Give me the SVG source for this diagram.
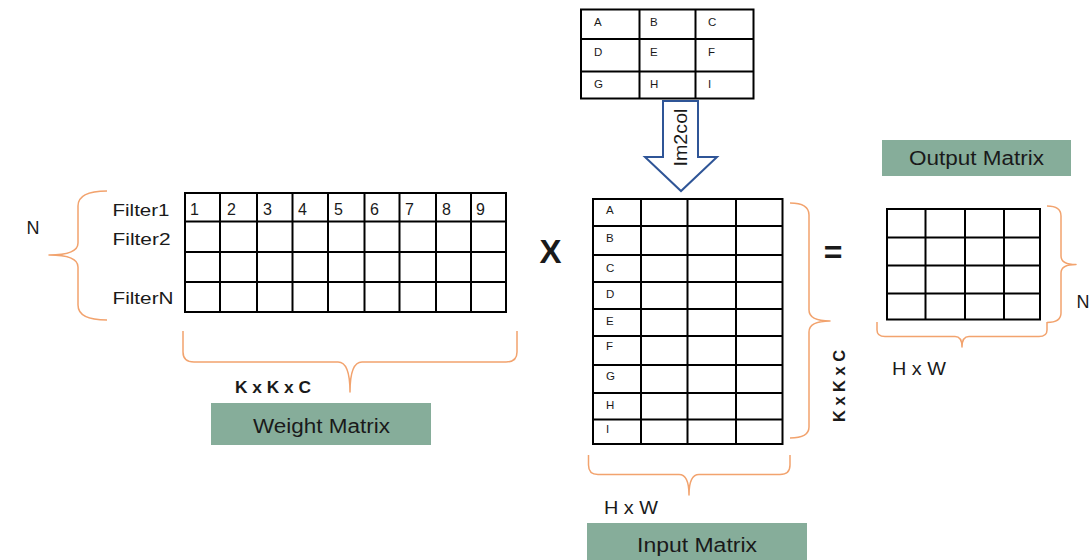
<svg xmlns="http://www.w3.org/2000/svg" width="1091" height="560" viewBox="0 0 1091 560">
  <style>
    .grid { fill: #ffffff; stroke: #000000; stroke-width: 2; }
    .line { stroke: #000000; stroke-width: 2; }
    .brace { fill: none; stroke: #f2a36e; stroke-width: 1.5; stroke-linejoin: round; }
    .label { fill: #1a1a1a; font-family: "Liberation Sans", "Noto Sans", sans-serif; }
    .cell { font-size: 11.5px; }
    .digit { font-size: 16px; }
    .filter { font-size: 17px; }
    .bold { font-weight: bold; }
    .banner { fill: #86ad9a; }
    .bannerText { font-size: 20px; fill: #1a1a1a; font-family: "Liberation Sans", "Noto Sans", sans-serif; }
    .arrow { fill: #ffffff; stroke: #2f5597; stroke-width: 2; stroke-linejoin: miter; }
  </style>

  <!-- Weight matrix: N filters, each flattened to K x K x C values -->
  <g id="weight-matrix">
    <rect class="grid" x="185" y="193" width="321" height="119"/>
    <g class="line">
      <line x1="220" y1="193" x2="220" y2="312"/>
      <line x1="257" y1="193" x2="257" y2="312"/>
      <line x1="292.5" y1="193" x2="292.5" y2="312"/>
      <line x1="328" y1="193" x2="328" y2="312"/>
      <line x1="364.5" y1="193" x2="364.5" y2="312"/>
      <line x1="399.5" y1="193" x2="399.5" y2="312"/>
      <line x1="436" y1="193" x2="436" y2="312"/>
      <line x1="471" y1="193" x2="471" y2="312"/>
      <line x1="185" y1="221.5" x2="506" y2="221.5"/>
      <line x1="185" y1="252" x2="506" y2="252"/>
      <line x1="185" y1="282" x2="506" y2="282"/>
    </g>
    <g class="label digit">
      <text x="190" y="215">1</text>
      <text x="227" y="215">2</text>
      <text x="263" y="215">3</text>
      <text x="298" y="215">4</text>
      <text x="334" y="215">5</text>
      <text x="370" y="215">6</text>
      <text x="405" y="215">7</text>
      <text x="442" y="215">8</text>
      <text x="476" y="215">9</text>
    </g>
    <g class="label filter">
      <text x="112.5" y="216" textLength="57" lengthAdjust="spacingAndGlyphs">Filter1</text>
      <text x="112.5" y="245" textLength="58" lengthAdjust="spacingAndGlyphs">Filter2</text>
      <text x="112.5" y="304" textLength="61" lengthAdjust="spacingAndGlyphs">FilterN</text>
    </g>
    <text class="label" x="26.5" y="233.5" font-size="18">N</text>
    <path class="brace" d="M107,191 Q78,191 78,206 L78,243 Q78,255 49,255 Q78,255 78,267 L78,305 Q78,320 107,320"/>
    <path class="brace" d="M183,331 L183,352 Q183,362 194,362 L338,362 Q350,362 350,392 Q350,362 362,362 L506,362 Q517,362 517,352 L517,331"/>
    <text class="label bold" x="235" y="393" font-size="16" textLength="76" lengthAdjust="spacingAndGlyphs">K x K x C</text>
    <rect class="banner" x="211" y="403" width="220" height="42"/>
    <text class="bannerText" x="253" y="433" textLength="137" lengthAdjust="spacingAndGlyphs">Weight Matrix</text>
  </g>

  <!-- Multiplication sign -->
  <g id="times-sign">
    <text class="label bold" x="550.5" y="262.5" font-size="33" text-anchor="middle">X</text>
  </g>

  <!-- Image patch before unfolding -->
  <g id="image-patch">
    <rect class="grid" x="581" y="9.5" width="172.5" height="89"/>
    <g class="line">
      <line x1="639.5" y1="9.5" x2="639.5" y2="98.5"/>
      <line x1="695.5" y1="9.5" x2="695.5" y2="98.5"/>
      <line x1="581" y1="39" x2="753.5" y2="39"/>
      <line x1="581" y1="71.5" x2="753.5" y2="71.5"/>
    </g>
    <g class="label cell">
      <text x="594" y="25.5">A</text>
      <text x="650" y="25.5">B</text>
      <text x="708" y="25.5">C</text>
      <text x="594" y="56">D</text>
      <text x="650" y="56">E</text>
      <text x="708" y="56">F</text>
      <text x="594" y="88">G</text>
      <text x="650" y="88">H</text>
      <text x="708" y="88">I</text>
    </g>
  </g>

  <!-- Im2col transform arrow -->
  <g id="im2col-arrow">
    <polygon class="arrow" points="663,101 698,101 698,157 717,157 681,191 645,157 663,157"/>
    <text class="label" transform="translate(687,137.5) rotate(-90)" font-size="19" text-anchor="middle" textLength="58" lengthAdjust="spacingAndGlyphs">Im2col</text>
  </g>

  <!-- Input matrix: K x K x C rows by H x W columns -->
  <g id="input-matrix">
    <rect class="grid" x="593" y="199" width="189.5" height="245"/>
    <g class="line">
      <line x1="641" y1="199" x2="641" y2="444"/>
      <line x1="687.5" y1="199" x2="687.5" y2="444"/>
      <line x1="736" y1="199" x2="736" y2="444"/>
      <line x1="593" y1="226" x2="782.5" y2="226"/>
      <line x1="593" y1="255" x2="782.5" y2="255"/>
      <line x1="593" y1="282" x2="782.5" y2="282"/>
      <line x1="593" y1="309" x2="782.5" y2="309"/>
      <line x1="593" y1="336" x2="782.5" y2="336"/>
      <line x1="593" y1="365" x2="782.5" y2="365"/>
      <line x1="593" y1="393" x2="782.5" y2="393"/>
      <line x1="593" y1="419.5" x2="782.5" y2="419.5"/>
    </g>
    <g class="label cell">
      <text x="606" y="214">A</text>
      <text x="606" y="242">B</text>
      <text x="606" y="272">C</text>
      <text x="606" y="297.5">D</text>
      <text x="606" y="325">E</text>
      <text x="606" y="350">F</text>
      <text x="606" y="380">G</text>
      <text x="606" y="408.5">H</text>
      <text x="606" y="433">I</text>
    </g>
    <path class="brace" d="M790,203 Q809,203 809,215 L809,310 Q809,321 830,321 Q809,321 809,332 L809,427 Q809,438 790,438"/>
    <text class="label bold" transform="translate(845,386) rotate(-90)" font-size="16" text-anchor="middle" textLength="72" lengthAdjust="spacingAndGlyphs">K x K x C</text>
    <path class="brace" d="M588.5,455 L588.5,465 Q588.5,474.5 598,474.5 L679,474.5 Q689,474.5 689,495 Q689,474.5 699,474.5 L780,474.5 Q790,474.5 790,465 L790,455"/>
    <text class="label" x="604" y="514" font-size="18" textLength="54" lengthAdjust="spacingAndGlyphs">H x W</text>
    <rect class="banner" x="587" y="523" width="220" height="42"/>
    <text class="bannerText" x="637" y="552" textLength="120" lengthAdjust="spacingAndGlyphs">Input Matrix</text>
  </g>

  <!-- Equals sign -->
  <g id="equals-sign">
    <text class="label bold" x="833" y="263" font-size="32" text-anchor="middle">=</text>
  </g>

  <!-- Output matrix: N rows by H x W columns -->
  <g id="output-matrix">
    <rect class="banner" x="882" y="140" width="189" height="36"/>
    <text class="bannerText" x="909" y="165" textLength="135" lengthAdjust="spacingAndGlyphs">Output Matrix</text>
    <rect class="grid" x="887" y="209" width="153" height="110.5"/>
    <g class="line">
      <line x1="925.5" y1="209" x2="925.5" y2="319.5"/>
      <line x1="965" y1="209" x2="965" y2="319.5"/>
      <line x1="1004" y1="209" x2="1004" y2="319.5"/>
      <line x1="887" y1="237.5" x2="1040" y2="237.5"/>
      <line x1="887" y1="265.5" x2="1040" y2="265.5"/>
      <line x1="887" y1="293.5" x2="1040" y2="293.5"/>
    </g>
    <path class="brace" d="M1047,206 Q1061,206 1061,216 L1061,256 Q1061,264.5 1076,264.5 Q1061,264.5 1061,273 L1061,313 Q1061,322.5 1047,322.5"/>
    <text class="label" x="1076.5" y="308" font-size="18">N</text>
    <path class="brace" d="M877,322 L877,330 Q877,336.5 885,336.5 L955,336.5 Q962,336.5 962,347 Q962,336.5 969,336.5 L1039,336.5 Q1047,336.5 1047,330 L1047,322"/>
    <text class="label" x="892" y="375" font-size="18" textLength="54" lengthAdjust="spacingAndGlyphs">H x W</text>
  </g>
</svg>
